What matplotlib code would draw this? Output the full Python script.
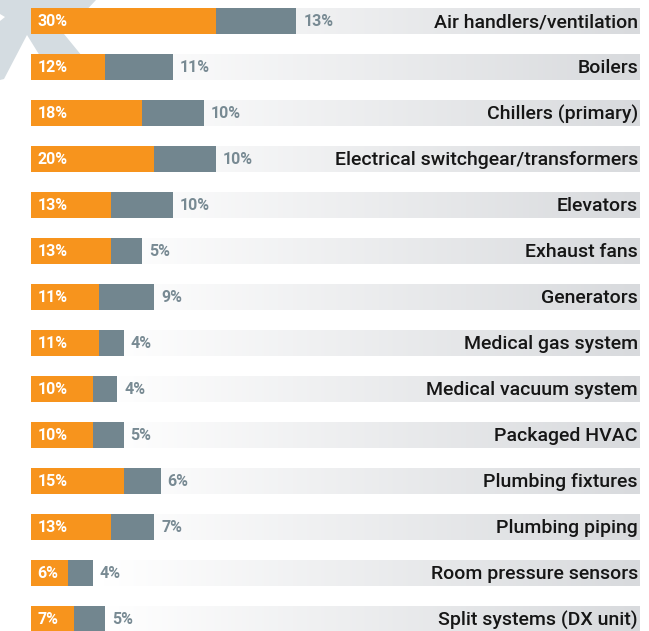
import numpy as np
import matplotlib.pyplot as plt
from matplotlib.colors import LinearSegmentedColormap
from matplotlib.patches import Polygon

plt.rcParams['font.family'] = ['Roboto', 'DejaVu Sans']

categories = ["Air handlers/ventilation", "Boilers", "Chillers (primary)",
              "Electrical switchgear/transformers", "Elevators", "Exhaust fans",
              "Generators", "Medical gas system", "Medical vacuum system",
              "Packaged HVAC", "Plumbing fixtures", "Plumbing piping",
              "Room pressure sensors", "Split systems (DX unit)"]
first_part = [30, 12, 18, 20, 13, 13, 11, 11, 10, 10, 15, 13, 6, 7]
second_part = [13, 11, 10, 10, 10, 5, 9, 4, 4, 5, 6, 7, 4, 5]

ORANGE = '#f7941d'
SLATE = '#72868f'
SLATE_TXT = '#788a93'

W, H = 649, 631
fig = plt.figure(figsize=(W / 100, H / 100), dpi=100)

# decorative arrow in the top-left corner (figure pixel coords, y down)
arrow_px = [(0, 0), (96, 0), (64, 34), (82, 56), (40, 56), (27, 35),
            (4, 79), (0, 80), (0, 21), (5, 17), (0, 14)]
arrow = Polygon([(x / W, 1 - y / H) for x, y in arrow_px], closed=True,
                transform=fig.transFigure, facecolor='#d4dce1',
                edgecolor='none', zorder=0)
fig.patches.append(arrow)

ax = fig.add_axes([31 / W, 0, (640 - 31) / W, 1])
ax.set_zorder(2)
ax.patch.set_alpha(0)
xmax = (640 - 31) / 6.17
row = 46.0
ax.axis('off')

bh = 26 / row
cmap = LinearSegmentedColormap.from_list(
    'band', [(0, '#ffffff'), (0.12, '#ffffff'), (1, '#d8dadd')])
grad = np.linspace(0, 1, 256).reshape(1, -1)

ys = np.arange(len(categories))
for y in ys:
    ax.imshow(grad, cmap=cmap, aspect='auto', zorder=1,
              extent=(0, xmax, y + bh / 2, y - bh / 2))

ax.barh(ys, first_part, height=bh, color=ORANGE, zorder=2)
ax.barh(ys, second_part, left=first_part, height=bh, color=SLATE, zorder=2)
ax.set_xlim(0, xmax)
ax.set_ylim((H - 21) / row, -21 / row)

for y, a, b, name in zip(ys, first_part, second_part, categories):
    ax.annotate(f"{a}%", (0, y), xytext=(4.5, -0.6), textcoords='offset points',
                ha='left', va='center', color='white', fontsize=11.5,
                fontweight='bold', zorder=3)
    ax.annotate(f"{b}%", (a + b, y), xytext=(5, -0.6), textcoords='offset points',
                ha='left', va='center', color=SLATE_TXT, fontsize=11.5,
                fontweight='bold', zorder=3)
    ax.annotate(name, (xmax, y), xytext=(-1.5, -0.8), textcoords='offset points',
                ha='right', va='center', color='#161616', fontsize=14,
                fontweight='medium', zorder=3)

fig.savefig('out.png', dpi=100)
